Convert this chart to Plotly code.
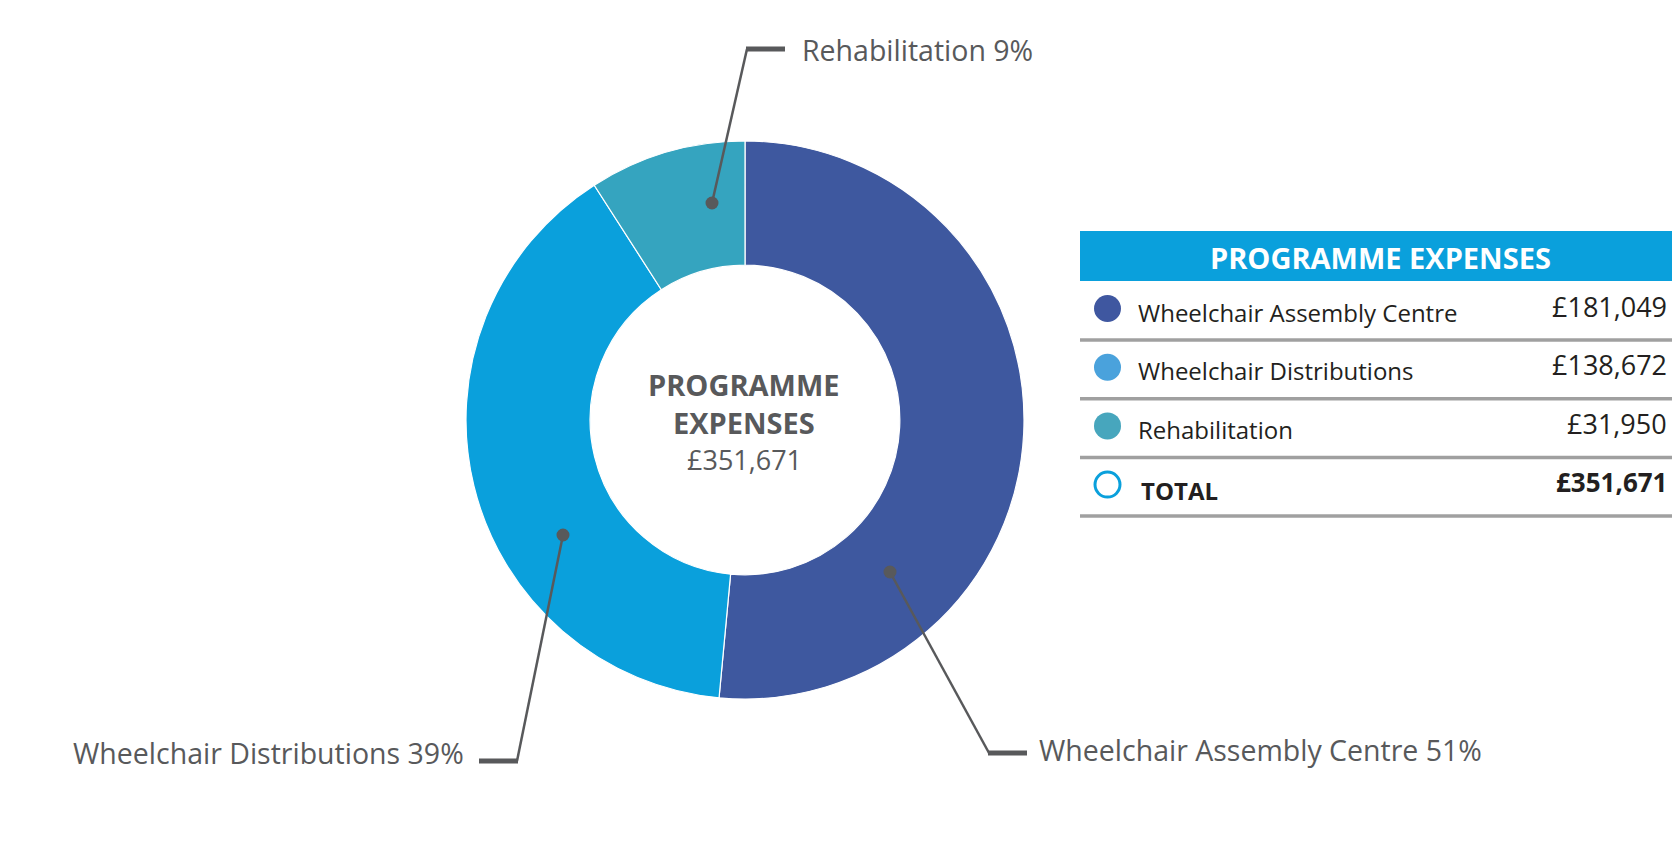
import plotly.graph_objects as go

# data
categories = ['Wheelchair Assembly Centre', 'Wheelchair Distributions', 'Rehabilitation']
expenses = [181049, 138672, 31950]
slice_colors = ['#3e589f', '#0aa0dc', '#35a4bf']
legend_dot_colors = ['#3f57a0', '#4aa2dc', '#47a6bd']
pct_labels = ['51%', '39%', '9%']
title = 'PROGRAMME EXPENSES'
total_label = 'TOTAL'

# the page body has an 8px margin, so the figure is laid out in window pixels
OFF = 8
W, H = 1680 - OFF, 866 - OFF
FONT = 'Open Sans'
GREY = '#58595b'
DARK = '#231f20'


def px(x):
    return (x - OFF) / W


def py(y):
    return 1 - (y - OFF) / H


total = sum(expenses)
fmt = lambda v: '£{:,}'.format(v)

# donut centred at (745, 420), outer radius 279
cx, cy, r = 745, 420, 279
fig = go.Figure(go.Pie(
    labels=categories,
    values=expenses,
    sort=False,
    direction='clockwise',
    rotation=0,
    hole=0.555,
    marker=dict(colors=slice_colors, line=dict(color='white', width=1.2)),
    textinfo='none',
    hoverinfo='label+value+percent',
    showlegend=False,
    domain=dict(x=[px(cx - r), px(cx + r)], y=[py(cy + r), py(cy - r)]),
))

shapes = []
annotations = []

# centre text
annotations.append(dict(x=px(744), y=py(384), text='<b>PROGRAMME</b>', showarrow=False,
                        font=dict(family=FONT, size=29, color=GREY), xanchor='center', yanchor='middle'))
annotations.append(dict(x=px(744), y=py(422), text='<b>EXPENSES</b>', showarrow=False,
                        font=dict(family=FONT, size=29, color=GREY), xanchor='center', yanchor='middle'))
annotations.append(dict(x=px(744), y=py(459), text=fmt(total), showarrow=False,
                        font=dict(family=FONT, size=27, color=GREY), xanchor='center', yanchor='middle'))

# leader lines: (dot, corner, stub end, text x, text y, anchor)
leaders = [
    ((890, 572), (989, 753), (1027, 753), 1037, 750, 'left'),
    ((563, 535), (517, 761), (479, 761), 466, 753, 'right'),
    ((712, 203), (747, 49), (785, 49), 800, 50, 'left'),
]
for (name, pct), (dot, corner, stub, tx, ty, anchor) in zip(zip(categories, pct_labels), leaders):
    shapes.append(dict(type='line', xref='paper', yref='paper',
                       x0=px(dot[0]), y0=py(dot[1]), x1=px(corner[0]), y1=py(corner[1]),
                       line=dict(color=GREY, width=2.5)))
    shapes.append(dict(type='line', xref='paper', yref='paper',
                       x0=px(corner[0] - 1 if anchor == 'left' else corner[0] + 1), y0=py(corner[1]),
                       x1=px(stub[0]), y1=py(stub[1]),
                       line=dict(color=GREY, width=5)))
    shapes.append(dict(type='circle', xref='paper', yref='paper',
                       x0=px(dot[0] - 6.5), y0=py(dot[1] - 6.5), x1=px(dot[0] + 6.5), y1=py(dot[1] + 6.5),
                       fillcolor=GREY, line=dict(width=0)))
    annotations.append(dict(x=px(tx), y=py(ty), text=f'{name} {pct}', showarrow=False,
                            font=dict(family=FONT, size=28.5, color=GREY),
                            xanchor=anchor, yanchor='middle'))

# table
tx0, tx1 = 1080, 1690
shapes.append(dict(type='rect', xref='paper', yref='paper',
                   x0=px(tx0), x1=px(tx1), y0=py(281), y1=py(231),
                   fillcolor='#0aa0dc', line=dict(width=0)))
annotations.append(dict(x=px(1380), y=py(257), text=f'<b>{title}</b>', showarrow=False,
                        font=dict(family=FONT, size=29, color='white'), xanchor='center', yanchor='middle'))

row_names = categories + [total_label]
row_values = expenses + [total]
row_dots = legend_dot_colors + [None]
pitch = 58.7
for i, (name, val, dcol) in enumerate(zip(row_names, row_values, row_dots)):
    ymid = 308 + pitch * i
    is_total = dcol is None
    if is_total:
        shapes.append(dict(type='circle', xref='paper', yref='paper',
                           x0=px(1095), x1=px(1120), y0=py(ymid - 12), y1=py(ymid + 13),
                           fillcolor='white', line=dict(color='#0aa0dc', width=3)))
    else:
        shapes.append(dict(type='circle', xref='paper', yref='paper',
                           x0=px(1094), x1=px(1121), y0=py(ymid - 13), y1=py(ymid + 14),
                           fillcolor=dcol, line=dict(width=0)))
    label = f'<b>{name}</b>' if is_total else name
    annotations.append(dict(x=px(1136 if not is_total else 1139), y=py(ymid + 4 + (2 if is_total else 0)), text=label,
                            showarrow=False, font=dict(family=FONT, size=24, color=DARK),
                            xanchor='left', yanchor='middle'))
    vtxt = f'<b>{fmt(val)}</b>' if is_total else fmt(val)
    annotations.append(dict(x=px(1669), y=py(ymid - 2), text=vtxt, showarrow=False,
                            font=dict(family=FONT, size=26 if is_total else 27, color=DARK),
                            xanchor='right', yanchor='middle'))
    sep = 340 + pitch * i
    shapes.append(dict(type='line', xref='paper', yref='paper',
                       x0=px(tx0), x1=px(tx1), y0=py(sep), y1=py(sep),
                       line=dict(color='#a0a0a0', width=3.5)))

fig.update_layout(
    width=W, height=H,
    margin=dict(l=0, r=0, t=0, b=0),
    paper_bgcolor='white',
    plot_bgcolor='white',
    shapes=shapes,
    annotations=annotations,
    font=dict(family=FONT, color=GREY),
)

fig.write_html('out.html')
